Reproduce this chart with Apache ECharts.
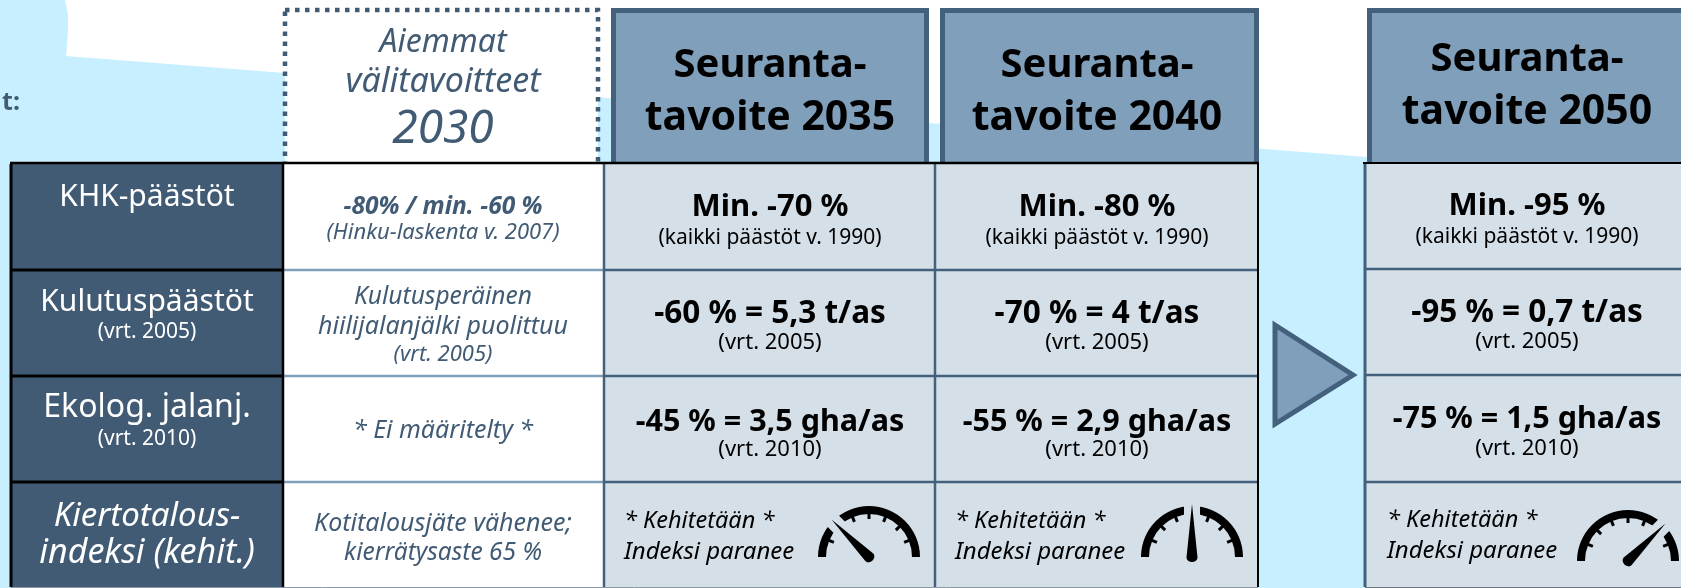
<!DOCTYPE html>
<html>
<head>
<meta charset="utf-8">
<style>html,body{margin:0;padding:0;background:#fff}#chart{width:1681px;height:588px}</style>
<script src="https://cdn.jsdelivr.net/npm/echarts@6/dist/echarts.min.js"></script>
</head>
<body>
<div id="chart"></div>
<script>
// table contents
const rowTitles = ['KHK-päästöt', 'Kulutuspäästöt', 'Ekolog. jalanj.', 'Kiertotalous-', 'indeksi (kehit.)'];
const rowBases = ['(vrt. 2005)', '(vrt. 2010)'];
const earlierHead = ['Aiemmat', 'välitavoitteet', '2030'];
const earlierCells = ['-80% / min. -60 %', '(Hinku-laskenta v. 2007)', 'Kulutusperäinen', 'hiilijalanjälki puolittuu', '(vrt. 2005)', '* Ei määritelty *', 'Kotitalousjäte vähenee;', 'kierrätysaste 65 %'];
const targetYears = ['2035', '2040', '2050'];
const targetEmissions = ['Min. -70 %', 'Min. -80 %', 'Min. -95 %'];
const targetConsumption = ['-60 % = 5,3 t/as', '-70 % = 4 t/as', '-95 % = 0,7 t/as'];
const targetFootprint = ['-45 % = 3,5 gha/as', '-55 % = 2,9 gha/as', '-75 % = 1,5 gha/as'];
const emissionsBase = '(kaikki päästöt v. 1990)';
const indexNotes = ['* Kehitetään *', 'Indeksi paranee'];
const dialValues = [25, 50, 75];

// layout, in picture pixels
const WIDTH = 1681, HEIGHT = 588;
const colX = [11, 283, 604, 935, 1258];
const rowY = [164, 270, 376, 482, 587];
const lastColX = [1365, 1681];
const lastRowY = [163, 269, 375, 482, 587];
const targetCenters = [770, 1097, 1527];
const noteLeft = [624, 955, 1387];
const dialCenters = [[869, 557], [1192, 557], [1628, 561]];

const NAVY = '#415b75', STEEL = '#7f9fba', EDGE = '#43607c', CELL = '#d4dfe8', SKY = '#c8efff', INK = '#000';
const FONT = '"Noto Sans"';

const skyOutline = [[0, 0], [65, 0], [68, 15], [68, 30], [67, 45], [66, 56], [1367, 157], [WIDTH, 182], [WIDTH, HEIGHT], [0, HEIGHT]];
const arrowOutline = [[1275, 325], [1353, 375], [1275, 424]];

const shapes = [];
const box = (x0, y0, x1, y1, fill, stroke, lw, dash) => shapes.push({ kind: 'rect', pts: [[x0, y0], [x1, y1]], fill, stroke, lw, dash });
const poly = (pts, fill, stroke, lw) => shapes.push({ kind: 'poly', pts, fill, stroke, lw });
const rule = (x0, y0, x1, y1, stroke, lw) => shapes.push({ kind: 'line', pts: [[x0, y0], [x1, y1]], stroke, lw });

poly(skyOutline, SKY);
// header boxes
box(285, 10, 598, 170, '#fff', NAVY, 4.5, [4.5, 5.5]);
box(613.5, 10.5, 926.5, 170, STEEL, EDGE, 5);
box(942.5, 10.5, 1256.5, 170, STEEL, EDGE, 5);
box(1369.5, 10.5, 1700, 170, STEEL, EDGE, 5);
// table fills
box(colX[0], rowY[0], colX[1], rowY[4], NAVY);
box(colX[1], rowY[0], colX[2], rowY[4], '#fff');
box(colX[2], rowY[0], colX[4], rowY[4], CELL);
box(lastColX[0], lastRowY[0], lastColX[1], lastRowY[4], CELL);
// table rules
[1, 2, 3].forEach((r) => {
  rule(colX[0], rowY[r], colX[1], rowY[r], INK, 3);
  rule(colX[1], rowY[r], colX[2], rowY[r], STEEL, 2.5);
  rule(colX[2], rowY[r], colX[4], rowY[r], EDGE, 2.5);
  rule(lastColX[0], lastRowY[r], lastColX[1], lastRowY[r], EDGE, 2.5);
});
rule(colX[2], rowY[0], colX[2], rowY[4], EDGE, 2.5);
rule(colX[3], rowY[0], colX[3], rowY[4], EDGE, 2.5);
rule(lastColX[0], lastRowY[0], lastColX[0], lastRowY[4], EDGE, 3);
rule(colX[0], rowY[0], colX[0], rowY[4], INK, 3);
rule(colX[1], rowY[0], colX[1], rowY[4], INK, 2.5);
rule(colX[4], rowY[0], colX[4], rowY[4], INK, 2);
rule(colX[0] - 1, rowY[0] - 1, colX[4] + 1, rowY[0] - 1, INK, 2.5);
rule(lastColX[0] - 2, lastRowY[0], lastColX[1], lastRowY[0], INK, 2);
rule(colX[0], 587.5, colX[4], 587.5, '#8d9aa6', 1);
rule(lastColX[0], 587.5, lastColX[1], 587.5, '#6c7781', 1);
poly(arrowOutline, STEEL, EDGE, 5);

// text lines: [x, y, text, size, weight, italic, color, align]
const lines = [];
const put = (x, y, text, size, weight, italic, color, align) => lines.push([x, y, text, size, weight, italic, color, align || 'center']);
put(20, 103, 't:', 25, 'bold', false, NAVY, 'right');

put(147, 197, rowTitles[0], 30, 'normal', false, '#fff');
put(147, 302, rowTitles[1], 30, 'normal', false, '#fff');
put(147, 332, rowBases[0], 21, 'normal', false, '#fff');
put(147, 408, rowTitles[2], 32, 'normal', false, '#fff');
put(147, 439, rowBases[1], 21, 'normal', false, '#fff');
put(147, 517, rowTitles[3], 33, 'normal', true, '#fff');
put(147, 553, rowTitles[4], 34, 'normal', true, '#fff');

put(443, 43, earlierHead[0], 32, 'normal', true, NAVY);
put(443, 82, earlierHead[1], 34, 'normal', true, NAVY);
put(443, 130, earlierHead[2], 46, 'normal', true, NAVY);
put(443, 207, earlierCells[0], 24.5, 'bold', true, NAVY);
put(443, 233, earlierCells[1], 22, 'normal', true, NAVY);
put(443, 297, earlierCells[2], 24.5, 'normal', true, NAVY);
put(443, 327, earlierCells[3], 25, 'normal', true, NAVY);
put(443, 355, earlierCells[4], 22, 'normal', true, NAVY);
put(443, 431, earlierCells[5], 25, 'normal', true, NAVY);
put(443, 524, earlierCells[6], 25, 'normal', true, NAVY);
put(443, 553, earlierCells[7], 24.5, 'normal', true, NAVY);

targetYears.forEach((year, i) => {
  const cx = targetCenters[i], dy = i === 2 ? -6 : 0, small = i === 2 ? -1 : 0;
  put(cx, 66 + dy, 'Seuranta-', 40, 'bold', false, INK);
  put(cx, 118 + dy, 'tavoite ' + year, 41, 'bold', false, INK);
  put(cx, 207 + small, targetEmissions[i], 31, 'bold', false, INK);
  put(cx, 238 + small, emissionsBase, 21, 'normal', false, INK);
  put(cx, 314 + small, targetConsumption[i], 31.5, 'bold', false, INK);
  put(cx, 343 + small, rowBases[0], 22, 'normal', false, INK);
  put(cx, 422 + dy / 2, targetFootprint[i], 30.5, 'bold', false, INK);
  put(cx, 450 + small, rowBases[1], 22, 'normal', false, INK);
  put(noteLeft[i], 521 + small, indexNotes[0], 23.5, 'normal', true, INK, 'left');
  put(noteLeft[i], 552 + small, indexNotes[1], 24, 'normal', true, INK, 'left');
});

// a dial is three gauges: tick marks, the arc with a cell coloured gap, the needle
const NEEDLE = 'path://M5 0 L10 60 A5 5 0 0 1 0 60 Z';
const gaugeBase = {
  type: 'gauge',
  min: 0,
  max: 100,
  radius: 51,
  silent: true,
  axisTick: { show: false },
  axisLabel: { show: false },
  title: { show: false },
  detail: { show: false },
  progress: { show: false },
  animation: false,
};
const dialSeries = [];
dialValues.forEach((value, i) => {
  const center = dialCenters[i];
  const data = [{ value }];
  dialSeries.push(Object.assign({}, gaugeBase, {
    center, data, z: 3, startAngle: 157.5, endAngle: 22.5, splitNumber: 6,
    axisLine: { show: false, lineStyle: { width: 8 } },
    splitLine: { show: true, distance: -1, length: 6, lineStyle: { color: INK, width: 3 } },
    pointer: { show: false },
  }));
  dialSeries.push(Object.assign({}, gaugeBase, {
    center, data, z: 4, startAngle: 180, endAngle: 0,
    axisLine: { show: true, lineStyle: { width: 8, color: [[1, INK]] } },
    splitLine: { show: false },
    pointer: { show: true, width: 16, length: 56, icon: 'rect', itemStyle: { color: CELL } },
  }));
  dialSeries.push(Object.assign({}, gaugeBase, {
    center, data, z: 5, startAngle: 180, endAngle: 0,
    axisLine: { show: false, lineStyle: { width: 8 } },
    splitLine: { show: false },
    pointer: { show: true, icon: NEEDLE, width: 11, length: 58, offsetCenter: [0, 5], itemStyle: { color: INK } },
  }));
});

function renderShape(params, api) {
  const s = shapes[params.dataIndex];
  const pts = s.pts.map((p) => api.coord(p));
  const style = { fill: s.fill || 'none', stroke: s.stroke || null, lineWidth: s.lw || 0, lineDash: s.dash || null };
  if (s.kind === 'rect') {
    return { type: 'rect', shape: { x: pts[0][0], y: pts[0][1], width: pts[1][0] - pts[0][0], height: pts[1][1] - pts[0][1] }, style };
  }
  if (s.kind === 'line') {
    return { type: 'line', shape: { x1: pts[0][0], y1: pts[0][1], x2: pts[1][0], y2: pts[1][1] }, style };
  }
  return { type: 'polygon', shape: { points: pts }, style };
}

function renderLine(params, api) {
  const l = lines[params.dataIndex];
  const p = api.coord([l[0], l[1]]);
  return {
    type: 'text',
    x: p[0],
    y: p[1],
    style: {
      text: l[2],
      fill: l[6],
      align: l[7],
      verticalAlign: 'middle',
      font: (l[5] ? 'italic ' : '') + l[4] + ' ' + l[3] + 'px ' + FONT,
    },
  };
}

const chart = echarts.init(document.getElementById('chart'), null, { renderer: 'canvas' });
chart.setOption({
  backgroundColor: '#fff',
  animation: false,
  grid: { left: 0, right: 0, top: 0, bottom: 0 },
  xAxis: { type: 'value', min: 0, max: WIDTH, show: false },
  yAxis: { type: 'value', min: 0, max: HEIGHT, inverse: true, show: false },
  series: [
    { type: 'custom', z: 1, silent: true, clip: true, coordinateSystem: 'cartesian2d', renderItem: renderShape, data: shapes.map((s) => s.pts[0]), encode: { x: 0, y: 1 } },
    ...dialSeries,
    { type: 'custom', z: 6, silent: true, coordinateSystem: 'cartesian2d', renderItem: renderLine, data: lines.map((l) => [l[0], l[1]]), encode: { x: 0, y: 1 } },
  ],
});
window.onresize = chart.resize;
</script>
</body>
</html>
